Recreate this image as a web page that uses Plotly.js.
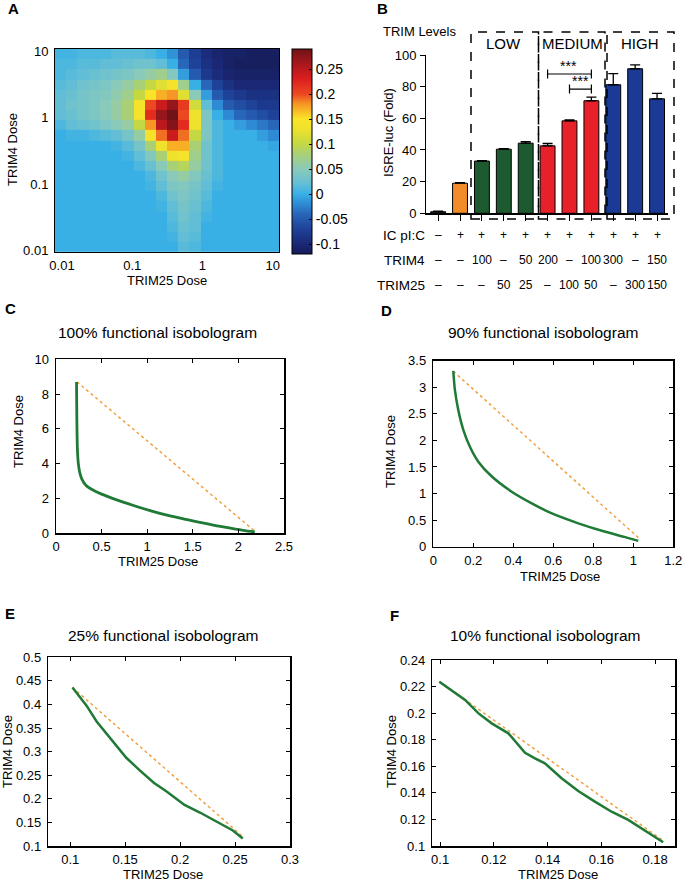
<!DOCTYPE html>
<html><head><meta charset="utf-8">
<script src="https://cdn.plot.ly/plotly-3.0.1.min.js"></script>
<style>html,body{margin:0;padding:0;background:#fff}</style>
</head><body><div id="chart" style="width:685px;height:882px"></div>
<script>
// ---------- Panel A: synergy heatmap (log10 dose grid) ----------
const trim25LogDose = [-2.02,-1.86,-1.70,-1.54,-1.38,-1.22,-1.06,-0.90,-0.74,-0.58,-0.425,-0.265,-0.105,0.055,0.215,0.375,0.535,0.695,0.855,1.01];
const trim4LogDoseTopDown = [0.955,0.80,0.65,0.495,0.34,0.19,0.04,-0.115,-0.27,-0.42,-0.575,-0.725,-0.88,-1.03,-1.185,-1.335,-1.49,-1.64,-1.795,-1.945];
const synergyTopDown = [
 [0.005,0.005,0.01,0.01,0.01,0.015,0.015,0.015,0.01,0.0,-0.015,-0.05,-0.075,-0.095,-0.105,-0.11,-0.11,-0.115,-0.115,-0.115],
 [0.01,0.01,0.015,0.015,0.02,0.02,0.025,0.03,0.03,0.02,0.0,-0.04,-0.07,-0.09,-0.1,-0.11,-0.115,-0.115,-0.115,-0.115],
 [0.01,0.015,0.02,0.025,0.03,0.035,0.04,0.05,0.06,0.07,0.045,-0.01,-0.05,-0.08,-0.095,-0.105,-0.11,-0.11,-0.11,-0.11],
 [0.015,0.02,0.03,0.035,0.04,0.05,0.06,0.08,0.1,0.12,0.14,0.07,0.0,-0.04,-0.07,-0.09,-0.1,-0.1,-0.1,-0.1],
 [0.02,0.025,0.035,0.04,0.045,0.055,0.07,0.1,0.15,0.17,0.18,0.12,0.05,-0.01,-0.05,-0.07,-0.08,-0.09,-0.09,-0.09],
 [0.02,0.03,0.035,0.04,0.05,0.06,0.08,0.14,0.2,0.24,0.27,0.21,0.11,0.02,-0.02,-0.05,-0.06,-0.07,-0.08,-0.08],
 [0.02,0.025,0.035,0.04,0.05,0.06,0.08,0.14,0.22,0.27,0.29,0.2,0.13,0.04,0.0,-0.02,-0.04,-0.05,-0.06,-0.07],
 [0.01,0.02,0.025,0.03,0.04,0.05,0.06,0.1,0.18,0.25,0.28,0.22,0.13,0.04,0.01,0.0,-0.01,-0.02,-0.03,-0.04],
 [0.0,0.005,0.005,0.01,0.015,0.02,0.035,0.06,0.14,0.19,0.24,0.19,0.1,0.04,0.01,0.0,0.0,0.0,-0.01,-0.02],
 [0.0,0.0,0.0,0.0,0.0,0.005,0.015,0.035,0.08,0.13,0.17,0.17,0.08,0.03,0.01,0.0,0.0,0.0,0.0,-0.005],
 [0,0,0,0,0,0,0.005,0.02,0.045,0.08,0.13,0.14,0.07,0.03,0.01,0,0,0,0,0],
 [0,0,0,0,0,0,0,0.01,0.025,0.05,0.08,0.09,0.06,0.03,0.01,0,0,0,0,0],
 [0,0,0,0,0,0,0,0,0.01,0.03,0.05,0.06,0.045,0.025,0.01,0,0,0,0,0],
 [0,0,0,0,0,0,0,0,0.005,0.02,0.04,0.045,0.035,0.02,0.005,0,0,0,0,0],
 [0,0,0,0,0,0,0,0,0,0.01,0.03,0.04,0.03,0.015,0,0,0,0,0,0],
 [0,0,0,0,0,0,0,0,0,0.005,0.02,0.035,0.025,0.01,0,0,0,0,0,0],
 [0,0,0,0,0,0,0,0,0,0,0.015,0.03,0.02,0.005,0,0,0,0,0,0],
 [0,0,0,0,0,0,0,0,0,0,0.01,0.025,0.02,0,0,0,0,0,0,0],
 [0,0,0,0,0,0,0,0,0,0,0.005,0.02,0.015,0,0,0,0,0,0,0],
 [0,0,0,0,0,0,0,0,0,0,0,0.015,0.01,0,0,0,0,0,0,0]
];
const logTickVals = [-2,-1,0,1];
const logTickText = ['0.01','0.1','1','10'];
const cbTickVals = [-0.1,-0.05,0,0.05,0.1,0.15,0.2,0.25];
const cbTickText = ['-0.1','-0.05','0','0.05','0.1','0.15','0.2','0.25'];

// ---------- Panel B: ISRE-luc bars ----------
const conditions = ['mock','IC','L1','L2','L3','M1','M2','M3','H1','H2','H3'];
const isreFold = [1, 19, 33, 40.5, 44.3, 42.6, 58.4, 71.1, 81.2, 91.3, 72.3];
const isreErr  = [0.3, 0.3, 0.3, 0.3, 1.0, 1.5, 0.6, 2.3, 7.0, 2.5, 3.5];
const icRow    = ['–','+','+','+','+','+','+','+','+','+','+'];
const trim4Row = ['–','–','100','–','50','200','–','100','300','–','150'];
const trim25Row= ['–','–','–','50','25','–','100','50','–','300','150'];
const groupLabels = ['LOW','MEDIUM','HIGH'];

// ---------- Panels C-F: isobolograms ----------
const c100x = [0.225,0.227,0.230,0.235,0.245,0.26,0.285,0.33,0.40,0.50,0.65,0.85,1.05,1.25,1.45,1.65,1.85,2.05,2.18];
const c100y = [8.7,7.5,6.0,4.8,4.0,3.5,3.1,2.75,2.5,2.25,1.95,1.6,1.28,1.0,0.77,0.55,0.35,0.17,0.08];
const c100ax = [0.23,2.18], c100ay = [8.7,0.12];
const c90x = [0.1,0.108,0.125,0.15,0.183,0.225,0.29,0.39,0.49,0.59,0.725,0.86,0.96,1.025];
const c90y = [3.31,2.95,2.57,2.2,1.88,1.60,1.33,1.04,0.82,0.63,0.44,0.28,0.18,0.11];
const c90ax = [0.1,1.025], c90ay = [3.3,0.17];
const c25x = [0.102,0.107,0.115,0.124,0.135,0.142,0.151,0.163,0.176,0.188,0.204,0.218,0.233,0.248,0.257];
const c25y = [0.436,0.42,0.397,0.364,0.332,0.311,0.287,0.261,0.234,0.215,0.187,0.171,0.152,0.133,0.116];
const c25ax = [0.102,0.257], c25ay = [0.436,0.12];
const c10x = [0.0997,0.1043,0.1093,0.1143,0.1192,0.1254,0.1316,0.1353,0.139,0.1452,0.1514,0.1576,0.1638,0.17,0.1762,0.183];
const c10y = [0.2237,0.2174,0.2099,0.1998,0.1923,0.1848,0.1702,0.166,0.1622,0.151,0.1414,0.1334,0.1258,0.1196,0.1115,0.1028];
const c10ax = [0.0997,0.183], c10ay = [0.224,0.104];

// ---------- styles ----------
const FONT = 'Liberation Sans, Arial, Helvetica, sans-serif';
const W = 685, H = 882;
const px = v => v / W, py = v => 1 - v / H;
const barColors = ['#262626','#f28c28','#1d5a30','#1d5a30','#1d5a30','#e8202a','#e8202a','#e8202a','#1a3a96','#1a3a96','#1a3a96'];
const curveColor = '#1f7a36', addColor = '#f0a040';
const jet = [
 [0,'rgb(22,28,88)'],[0.049,'rgb(26,40,118)'],[0.122,'rgb(30,66,152)'],[0.195,'rgb(40,102,186)'],
 [0.244,'rgb(46,138,212)'],[0.2927,'rgb(56,176,230)'],[0.341,'rgb(98,190,214)'],[0.4146,'rgb(138,202,186)'],
 [0.488,'rgb(170,208,118)'],[0.5366,'rgb(196,216,68)'],[0.61,'rgb(238,226,44)'],[0.659,'rgb(250,228,40)'],
 [0.732,'rgb(246,150,36)'],[0.78,'rgb(236,72,34)'],[0.854,'rgb(220,30,30)'],[0.927,'rgb(168,24,28)'],[1,'rgb(112,18,24)']
];

const trim4Asc = trim4LogDoseTopDown.slice().reverse();
const zAsc = synergyTopDown.slice().reverse();

const traces = [
 {type:'heatmap', x:trim25LogDose, y:trim4Asc, z:zAsc, xaxis:'x', yaxis:'y',
  zmin:-0.12, zmax:0.29, zsmooth:false, colorscale:jet, hoverinfo:'skip',
  colorbar:{x:px(292), xanchor:'left', y:py(49), yanchor:'top', len:205/H, lenmode:'fraction',
   thickness:20, thicknessmode:'pixels', xpad:0, ypad:0, outlinewidth:1, outlinecolor:'#000',
   tickvals:cbTickVals, ticktext:cbTickText, ticks:'inside', ticklen:3, tickcolor:'#000',
   tickfont:{size:14, family:FONT, color:'#000'}}},
 {type:'bar', x:conditions, y:isreFold, xaxis:'x2', yaxis:'y2', width:0.68,
  marker:{color:barColors, line:{color:'#000', width:1}},
  error_y:{type:'data', symmetric:false, array:isreErr, arrayminus:isreErr.map(()=>0), color:'#000', thickness:1.3, width:5},
  hoverinfo:'skip'},
 {type:'scatter', mode:'lines', x:c100ax, y:c100ay, xaxis:'x3', yaxis:'y3', line:{color:addColor, width:1.5, dash:'dot'}},
 {type:'scatter', mode:'lines', x:c100x, y:c100y, xaxis:'x3', yaxis:'y3', line:{color:curveColor, width:2.8, shape:'spline', smoothing:0.8}},
 {type:'scatter', mode:'lines', x:c90ax, y:c90ay, xaxis:'x4', yaxis:'y4', line:{color:addColor, width:1.5, dash:'dot'}},
 {type:'scatter', mode:'lines', x:c90x, y:c90y, xaxis:'x4', yaxis:'y4', line:{color:curveColor, width:2.5, shape:'spline', smoothing:0.8}},
 {type:'scatter', mode:'lines', x:c25ax, y:c25ay, xaxis:'x5', yaxis:'y5', line:{color:addColor, width:1.5, dash:'dot'}},
 {type:'scatter', mode:'lines', x:c25x, y:c25y, xaxis:'x5', yaxis:'y5', line:{color:curveColor, width:2.5}},
 {type:'scatter', mode:'lines', x:c10ax, y:c10ay, xaxis:'x6', yaxis:'y6', line:{color:addColor, width:1.5, dash:'dot'}},
 {type:'scatter', mode:'lines', x:c10x, y:c10y, xaxis:'x6', yaxis:'y6', line:{color:curveColor, width:2.5}}
];

const boxAxis = {showline:true, mirror:'ticks', linecolor:'#000', linewidth:1.5, ticks:'inside', ticklen:4,
  tickcolor:'#000', showgrid:false, zeroline:false, tickfont:{size:13, family:FONT, color:'#000'}, ticklabelstandoff:3, fixedrange:true};
const boxXAxis = Object.assign({}, boxAxis, {ticklabelstandoff:1});

const layout = {
 width:W, height:H, margin:{l:0,r:0,t:0,b:0}, paper_bgcolor:'#fff', plot_bgcolor:'#fff',
 showlegend:false, font:{family:FONT, color:'#000', size:13},
 xaxis:{domain:[px(55),px(279)], anchor:'y', range:[-2.1,1.09], tickvals:logTickVals, ticktext:logTickText,
   showline:true, mirror:true, linecolor:'#000', linewidth:1, ticks:'', showgrid:false, zeroline:false,
   tickfont:{size:13}, ticklabelstandoff:1},
 yaxis:{domain:[py(252),py(49)], anchor:'x', range:[-2.023,1.03], tickvals:logTickVals, ticktext:logTickText,
   showline:true, mirror:true, linecolor:'#000', linewidth:1, ticks:'', showgrid:false, zeroline:false,
   tickfont:{size:13}, ticklabelstandoff:3},
 xaxis2:{domain:[px(425),px(668)], anchor:'y2', type:'category', range:[-0.6,10.5], showticklabels:false,
   showline:true, linecolor:'#000', linewidth:1.3, ticks:'outside', ticklen:6, tickcolor:'#000', showgrid:false, zeroline:false},
 yaxis2:{domain:[py(213.3),py(55)], anchor:'free', position:px(425), range:[0,100], dtick:20,
   showline:true, linecolor:'#000', linewidth:1.3, ticks:'outside', ticklen:5, tickcolor:'#000', showgrid:false, zeroline:false,
   tickfont:{size:13}, ticklabelstandoff:1},
 xaxis3:Object.assign({}, boxXAxis, {domain:[px(56),px(284)], anchor:'y3', range:[0,2.5], dtick:0.5}),
 yaxis3:Object.assign({}, boxAxis, {domain:[py(533.3),py(359.3)], anchor:'x3', range:[0,10], dtick:2}),
 xaxis4:Object.assign({}, boxXAxis, {domain:[px(433.3),px(673.3)], anchor:'y4', range:[0,1.2], dtick:0.2}),
 yaxis4:Object.assign({}, boxAxis, {domain:[py(546.7),py(360.7)], anchor:'x4', range:[0,3.5], dtick:0.5}),
 xaxis5:Object.assign({}, boxXAxis, {domain:[px(48.3),px(290)], anchor:'y5', range:[0.08,0.3], tickvals:[0.1,0.15,0.2,0.25,0.3]}),
 yaxis5:Object.assign({}, boxAxis, {domain:[py(846),py(657.3)], anchor:'x5', range:[0.1,0.5], dtick:0.05}),
 xaxis6:Object.assign({}, boxXAxis, {domain:[px(432.3),px(675)], anchor:'y6', range:[0.0971,0.1874], tickvals:[0.1,0.12,0.14,0.16,0.18]}),
 yaxis6:Object.assign({}, boxAxis, {domain:[py(846),py(660)], anchor:'x6', range:[0.1,0.24], dtick:0.02}),
 shapes:[], annotations:[]
};

const ann = (text, x, y, opts) => layout.annotations.push(Object.assign({text, x:px(x), y:py(y), xref:'paper', yref:'paper',
  showarrow:false, xanchor:'center', yanchor:'middle', borderpad:0, font:{size:13, family:FONT, color:'#000'}}, opts||{}));
const titleFont = {size:15.5, family:FONT, color:'#000'};

// panel letters
[['A',13,8],['B',382,8],['C',10,308],['D',387,310],['E',10,613],['F',394,615]].forEach(([t,x,y]) =>
  ann('<b>'+t+'</b>', x, y, {font:{size:15, family:FONT, color:'#000'}}));

// axis titles and subplot titles
ann('TRIM25 Dose', 167, 280);
ann('TRIM4 Dose', 13, 150, {textangle:-90});
ann('ISRE-luc (Fold)', 388, 133, {textangle:-90});
ann('100% functional isobologram', 157, 332, {font:titleFont});
ann('TRIM25 Dose', 158, 561);
ann('TRIM4 Dose', 18, 432, {textangle:-90});
ann('90% functional isobologram', 543, 332, {font:titleFont});
ann('TRIM25 Dose', 560, 576);
ann('TRIM4 Dose', 390, 452, {textangle:-90});
ann('25% functional isobologram', 163, 635, {font:titleFont});
ann('TRIM25 Dose', 163, 874);
ann('TRIM4 Dose', 7, 752, {textangle:-90});
ann('10% functional isobologram', 545, 635, {font:titleFont});
ann('TRIM25 Dose', 558, 874);
ann('TRIM4 Dose', 391, 752, {textangle:-90});

// panel B annotations
ann('TRIM Levels', 382, 32, {xanchor:'left'});
const boxX = [[471,538.5],[538.5,605],[607,674]];
const boxLabelX = [503,572,640];
boxX.forEach(([a,b],i) => {
  layout.shapes.push({type:'rect', xref:'paper', yref:'paper', x0:px(a), x1:px(b), y0:py(219), y1:py(32),
    line:{color:'#000', width:1.5, dash:'dash'}, fillcolor:'rgba(0,0,0,0)', layer:'above'});
  ann(groupLabels[i], boxLabelX[i], 43, {font:{size:15, family:FONT, color:'#000'}});
});
// significance brackets
const brackets = [[conditions[5],conditions[7],88,93.3,5.95],[conditions[6],conditions[7],78.5,83.8,6.5]];
brackets.forEach(([a,b,yv,ys,xs]) => {
  const ia = conditions.indexOf(a), ib = conditions.indexOf(b);
  layout.shapes.push({type:'line', xref:'x2', yref:'y2', x0:ia, x1:ib, y0:yv, y1:yv, line:{color:'#000', width:1.2}});
  layout.shapes.push({type:'line', xref:'x2', yref:'y2', x0:ia, x1:ia, y0:yv-2.8, y1:yv+2.8, line:{color:'#000', width:1.2}});
  layout.shapes.push({type:'line', xref:'x2', yref:'y2', x0:ib, x1:ib, y0:yv-2.8, y1:yv+2.8, line:{color:'#000', width:1.2}});
  layout.annotations.push({text:'***', xref:'x2', yref:'y2', x:xs, y:ys, showarrow:false, xanchor:'center', yanchor:'middle',
    borderpad:0, font:{size:14, family:FONT, color:'#000'}});
});
// condition rows
const rows = [['IC pI:C', icRow, 235],['TRIM4', trim4Row, 260],['TRIM25', trim25Row, 285]];
rows.forEach(([label, vals, y]) => {
  ann(label, 426, y, {xanchor:'right', font:{size:13.5, family:FONT, color:'#000'}});
  vals.forEach((v,i) => layout.annotations.push({text:v, xref:'x2', yref:'paper', x:conditions[i], y:py(y),
    showarrow:false, xanchor:'center', yanchor:'middle', borderpad:0, font:{size:12, family:FONT, color:'#000'}}));
});

Plotly.newPlot('chart', traces, layout, {staticPlot:true, displayModeBar:false});
</script></body></html>
